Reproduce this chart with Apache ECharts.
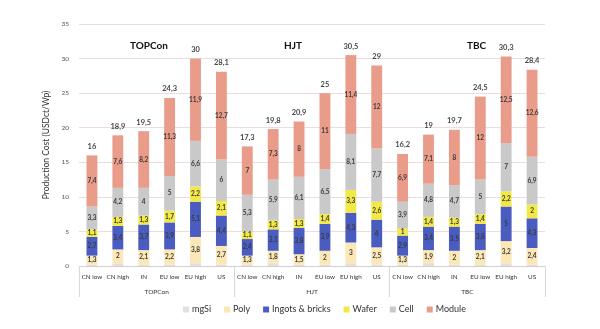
<!DOCTYPE html>
<html><head><meta charset="utf-8">
<script src="https://cdn.jsdelivr.net/npm/echarts@6/dist/echarts.min.js"></script>
<style>html,body{margin:0;padding:0;background:#fff}#c{width:600px;height:329px}</style>
</head><body><div id="c"></div>
<script>
const categories = ['CN low','CN high','IN','EU low','EU high','US','CN low','CN high','IN','EU low','EU high','US','CN low','CN high','IN','EU low','EU high','US'];
const groups = ['TOPCon','HJT','TBC'];
const mgSi   = [0.2,0.4,0.2,0.2,0.4,0.2, 0.2,0.4,0.2,0.2,0.4,0.2, 0.2,0.4,0.2,0.2,0.4,0.2];
const poly   = [1.3,2,2.1,2.2,3.8,2.7, 1.3,1.8,1.5,2,3,2.5, 1.3,1.9,2,2.1,3.2,2.4];
const ingots = [2.7,3.4,3.7,3.9,5.1,4.4, 2.4,3.1,3.8,3.9,4.3,4, 2.9,3.4,3.5,3.8,5,4.3];
const wafer  = [1.1,1.3,1.3,1.7,2.2,2.1, 1.1,1.3,1.3,1.4,3.3,2.6, 1,1.4,1.3,1.4,2.2,2];
const cell   = [3.3,4.2,4,5,6.6,6, 5.3,5.9,6.1,6.5,8.1,7.7, 3.9,4.8,4.7,5,7,6.9];
const module_= [7.4,7.6,8.2,11.3,11.9,12.7, 7,7.3,8,11,11.4,12, 6.9,7.1,8,12,12.5,12.6];
const totals = [16,18.9,19.5,24.3,30,28.1, 17.3,19.8,20.9,25,30.5,29, 16.2,19,19.7,24.5,30.3,28.4];
const yTicks = [0,5,10,15,20,25,30,35];

const FONT = 'Lato, "Liberation Sans", sans-serif';
const fmt = v => String(v).replace('.', ',');
const chart = echarts.init(document.getElementById('c'));
const seriesDefs = [
  ['mgSi', mgSi, '#e3dfdf', false],
  ['Poly', poly, '#fbe8b6', true],
  ['Ingots & bricks', ingots, '#4a5cc0', true],
  ['Wafer', wafer, '#f2e947', true],
  ['Cell', cell, '#c9c9c9', true],
  ['Module', module_, '#ea9c8a', true]
];
const series = seriesDefs.map(([name, data, color, lab]) => ({
  name, type: 'bar', stack: 'cost', data, barWidth: '42%',
  itemStyle: {color},
  label: {show: lab, position: 'inside', formatter: p => fmt(p.value),
    fontSize: 6.5, color: '#3a3a3a', fontFamily: FONT, fontWeight: 'bold'}
}));
series.push({
  name: 'Total', type: 'scatter', data: totals, symbolSize: 0, xAxisIndex: 0,
  label: {show: true, position: 'top', distance: 5, formatter: p => fmt(p.value),
    fontSize: 7.5, fontWeight: 'bold', color: '#111', fontFamily: FONT},
  silent: true
});
chart.setOption({
  animation: false,
  textStyle: {fontFamily: FONT},
  grid: {left: 79, right: 55, top: 24, bottom: 63},
  legend: {
    data: seriesDefs.map(d => d[0]), bottom: 10, left: 178,
    itemWidth: 6, itemHeight: 6, itemGap: 13, icon: 'rect',
    textStyle: {fontSize: 9, color: '#333', fontFamily: FONT, padding: [0,0,0,-2]}
  },
  xAxis: [{
    type: 'category', data: categories,
    axisLine: {lineStyle: {color: '#d0d0d0'}}, axisTick: {show: false},
    axisLabel: {fontSize: 6.3, color: '#333', margin: 8, interval: 0, fontFamily: FONT}
  }, {
    type: 'category', data: groups, position: 'bottom',
    axisLine: {show: false},
    axisTick: {show: true, length: 31, lineStyle: {color: '#d8d8d8'}},
    axisLabel: {fontSize: 6.5, color: '#333', margin: 22, fontFamily: FONT}
  }],
  yAxis: {
    type: 'value', min: 0, max: 35, interval: 5,
    name: 'Production Cost (USDct/Wp)', nameLocation: 'middle', nameGap: 24,
    nameTextStyle: {fontSize: 8.5, color: '#333', fontFamily: FONT},
    axisLine: {show: false}, axisTick: {show: false},
    axisLabel: {fontSize: 6.5, color: '#555', margin: 10, formatter: v => yTicks.includes(v) ? String(v) : ''},
    splitLine: {lineStyle: {color: '#eddcdc'}}
  },
  graphic: [
    {type: 'text', left: 130, top: 41, style: {text: 'TOPCon', font: 'bold 10px ' + FONT, fill: '#111'}},
    {type: 'text', left: 284, top: 41, style: {text: 'HJT', font: 'bold 10px ' + FONT, fill: '#111'}},
    {type: 'text', left: 467, top: 41, style: {text: 'TBC', font: 'bold 10px ' + FONT, fill: '#111'}}
  ],
  series
});
</script></body></html>
